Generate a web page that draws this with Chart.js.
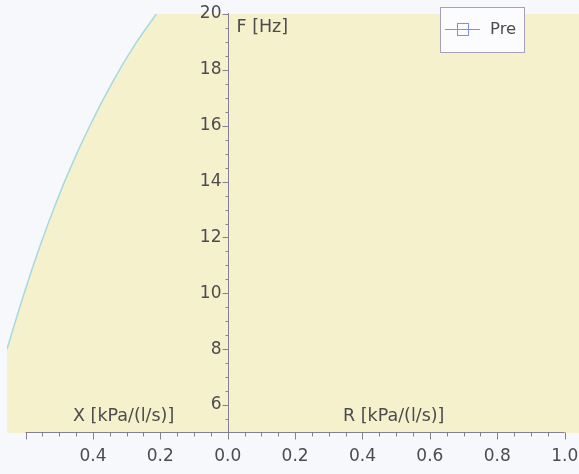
<!DOCTYPE html>
<html>
<head>
<meta charset="utf-8">
<script src="https://cdn.jsdelivr.net/npm/chart.js@4/dist/chart.umd.min.js"></script>
<style>
  html, body { margin: 0; padding: 0; background: #f7f8fb; }
  #wrap { width: 579px; height: 474px; position: relative; }
</style>
</head>
<body>
<div id="wrap"><canvas id="chart"></canvas></div>
<script>
// Normal reference range: limit of reactance X (left, negative side) per frequency F.
// Everything to the right of this limit lies inside the range.
const refFreq = [8, 9, 10, 11, 12, 13, 14, 15, 16, 17, 18, 19, 20];
const refX = [-0.655, -0.630, -0.604, -0.577, -0.548, -0.517, -0.484, -0.448, -0.409, -0.367, -0.321, -0.270, -0.212];

// Measured series (no points recorded)
const preR = [];
const preF = [];

// Axis ticks and labels
const xMajorTicks = [-0.6, -0.4, -0.2, 0.0, 0.2, 0.4, 0.6, 0.8, 1.0];
const xTickLabels = ['', '0.4', '0.2', '0.0', '0.2', '0.4', '0.6', '0.8', '1.0'];
const yMajorTicks = [6, 8, 10, 12, 14, 16, 18, 20];
const yTickLabels = ['6', '8', '10', '12', '14', '16', '18', '20'];

const X_MIN = -0.655, X_MAX = 1.0425, Y_MIN = 5, Y_MAX = 20;
const FONT = '"DejaVu Sans", Verdana, sans-serif';
const TEXT = '#4c4c4c';
const AXIS = '#857f92';
const PAGE = '#f7f8fb';
const RANGE = '#f5f1cd';
const EDGE = '#a6d9e1';
const PRE = '#7f8fe6';

// Range colour across the plot area; the region outside the limit is cut away by the limit dataset
const rangeArea = {
  id: 'rangeArea',
  beforeDatasetsDraw(chart) {
    const { ctx, chartArea: a } = chart;
    ctx.save();
    ctx.fillStyle = RANGE;
    ctx.fillRect(a.left, a.top, a.right - a.left, a.bottom - a.top);
    ctx.restore();
  }
};

// Axes drawn at the value-0 cross, with minor ticks
const axesPlugin = {
  id: 'crossAxes',
  afterDatasetsDraw(chart) {
    const { ctx, scales: { x, y } } = chart;
    ctx.save();
    ctx.strokeStyle = AXIS;
    ctx.lineWidth = 1;
    const yb = Math.round(y.getPixelForValue(Y_MIN)) - 0.5;
    const x0 = Math.round(x.getPixelForValue(0)) + 0.5;
    const xFirst = x.getPixelForValue(xMajorTicks[0]);
    const xLast = x.getPixelForValue(xMajorTicks[xMajorTicks.length - 1]);

    // horizontal axis
    ctx.beginPath();
    ctx.moveTo(xFirst, yb); ctx.lineTo(xLast, yb);
    for (let v = xMajorTicks[0]; v <= xMajorTicks[xMajorTicks.length - 1] + 1e-9; v += 0.05) {
      const px = Math.round(x.getPixelForValue(v)) + 0.5;
      const major = Math.abs(v / 0.2 - Math.round(v / 0.2)) < 1e-6;
      ctx.moveTo(px, yb); ctx.lineTo(px, yb + (major ? 7 : 4));
    }
    // vertical axis
    ctx.moveTo(x0, y.getPixelForValue(Y_MAX) - 1); ctx.lineTo(x0, yb);
    for (let v = Y_MIN + 0.5; v <= Y_MAX + 1e-9; v += 0.5) {
      const py = Math.round(y.getPixelForValue(v)) + 0.5;
      const major = yMajorTicks.includes(v);
      ctx.moveTo(x0, py); ctx.lineTo(x0 - (major ? 6 : 3), py);
    }
    ctx.stroke();

    // tick labels
    ctx.fillStyle = TEXT;
    ctx.font = '17px ' + FONT;
    ctx.textAlign = 'center';
    ctx.textBaseline = 'middle';
    xMajorTicks.forEach((v, i) => {
      if (xTickLabels[i]) ctx.fillText(xTickLabels[i], x.getPixelForValue(v), 457);
    });
    ctx.textAlign = 'right';
    yMajorTicks.forEach((v, i) => {
      ctx.fillText(yTickLabels[i], x0 - 7, y.getPixelForValue(v));
    });

    // axis titles
    ctx.font = '17.5px ' + FONT;
    ctx.textAlign = 'left';
    ctx.fillText('F [Hz]', x0 + 8, 27);
    ctx.fillText('X [kPa/(l/s)]', 73, 416);
    ctx.fillText('R [kPa/(l/s)]', 343, 416);
    ctx.restore();
  }
};

// Boxed legend in the upper right corner
const legendPlugin = {
  id: 'boxLegend',
  afterDraw(chart) {
    const ds = chart.data.datasets.find(d => d.label === 'Pre');
    const { ctx } = chart;
    ctx.save();
    ctx.fillStyle = '#fcfcfe';
    ctx.strokeStyle = '#a79fb8';
    ctx.lineWidth = 1;
    ctx.fillRect(440.5, 7.5, 84, 45);
    ctx.strokeRect(440.5, 7.5, 84, 45);
    ctx.strokeStyle = ds.borderColor;
    ctx.beginPath();
    ctx.moveTo(445, 29.5); ctx.lineTo(480, 29.5);
    ctx.stroke();
    ctx.strokeRect(457.5, 23.5, 11, 12);
    ctx.fillStyle = TEXT;
    ctx.font = '16.5px ' + FONT;
    ctx.textAlign = 'left';
    ctx.textBaseline = 'middle';
    ctx.fillText(ds.label, 490, 30);
    ctx.restore();
  }
};

new Chart(document.getElementById('chart'), {
  type: 'scatter',
  data: {
    datasets: [
      {
        label: 'Range limit',
        data: refX.map((x, i) => ({ x: x, y: refFreq[i] })),
        showLine: true,
        fill: 'end',
        backgroundColor: PAGE,
        borderColor: EDGE,
        borderWidth: 1.5,
        pointRadius: 0,
        tension: 0.4
      },
      {
        label: 'Pre',
        data: preR.map((r, i) => ({ x: r, y: preF[i] })),
        showLine: true,
        borderColor: PRE,
        backgroundColor: 'transparent',
        pointStyle: 'rect',
        pointRadius: 5,
        borderWidth: 1
      }
    ]
  },
  options: {
    responsive: true,
    maintainAspectRatio: false,
    animation: false,
    layout: { padding: { left: 7, top: 14, right: 0, bottom: 41 } },
    plugins: { legend: { display: false }, tooltip: { enabled: false } },
    scales: {
      x: { type: 'linear', min: X_MIN, max: X_MAX, display: false },
      y: { type: 'linear', min: Y_MIN, max: Y_MAX, display: false }
    }
  },
  plugins: [rangeArea, axesPlugin, legendPlugin]
});
</script>
</body>
</html>
